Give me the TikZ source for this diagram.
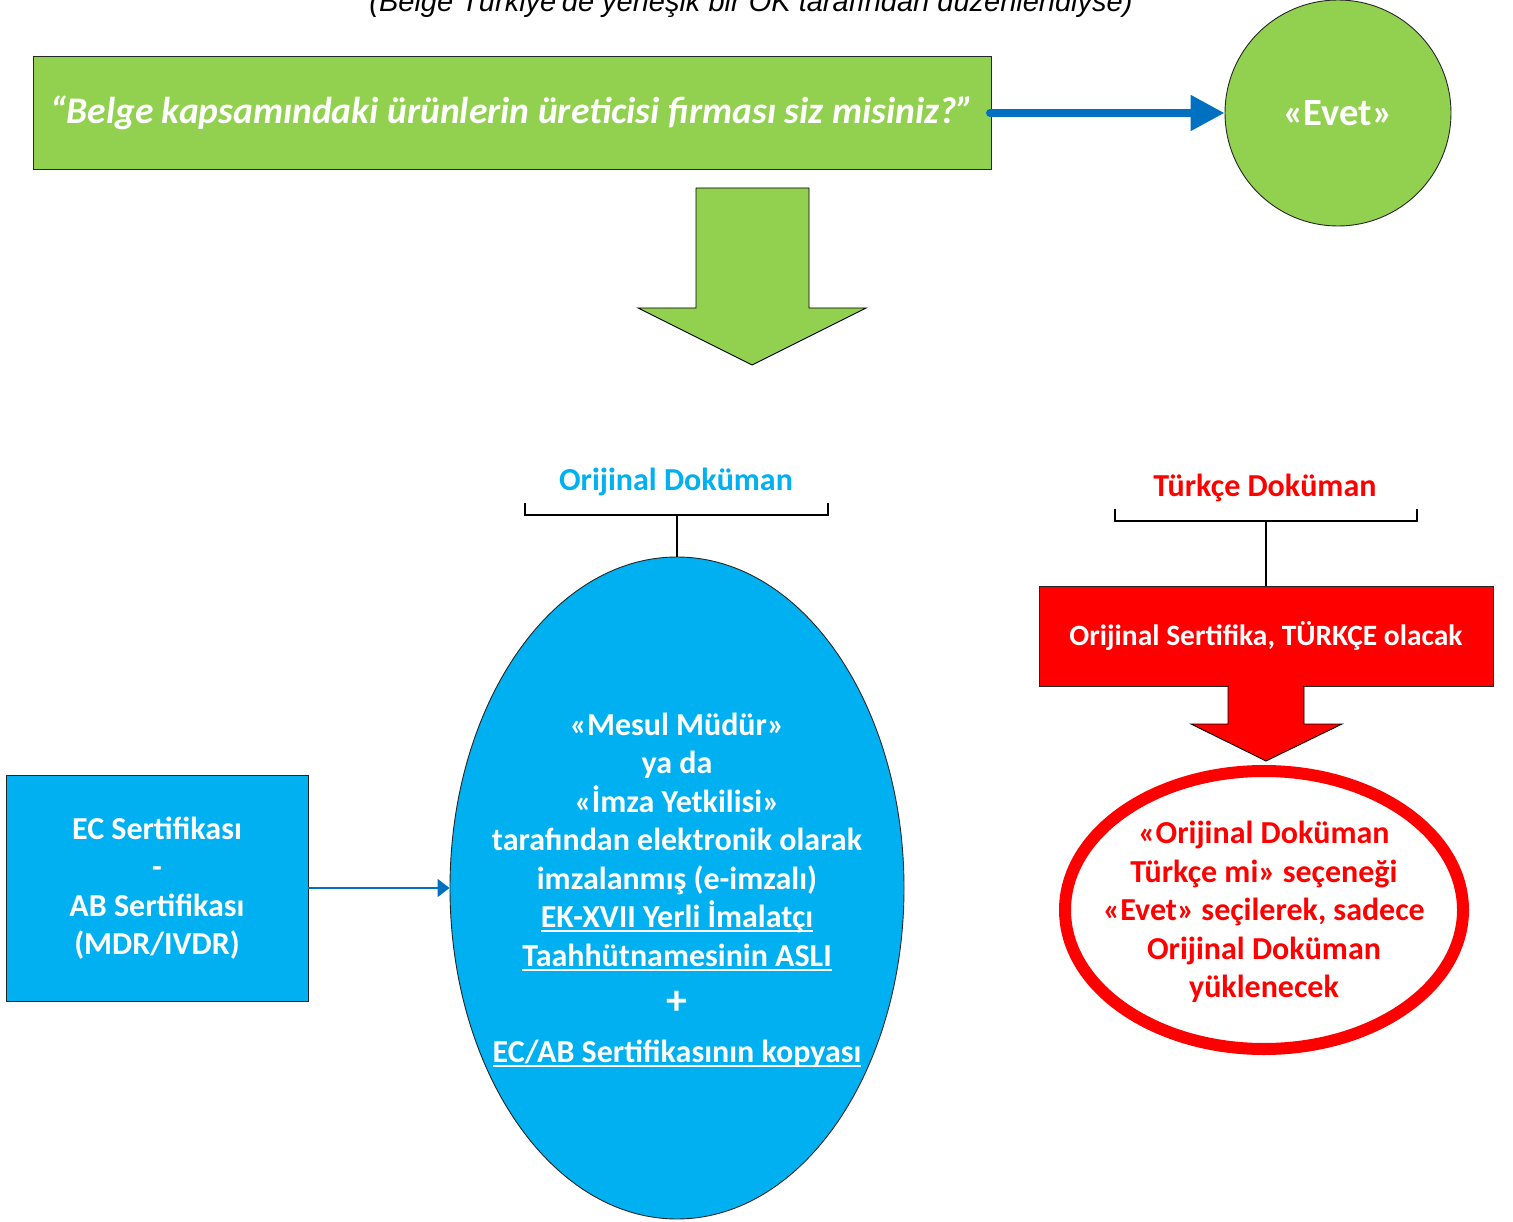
\documentclass[tikz,border=0pt]{standalone}
\usepackage{fontspec}
\setmainfont{Carlito}
\newfontfamily\capfont{Liberation Sans}
\usetikzlibrary{shapes.geometric,arrows.meta}
\definecolor{lgreen}{HTML}{92D050}
\definecolor{skyb}{HTML}{00B0F0}
\definecolor{darkb}{HTML}{0070C0}
\definecolor{pred}{HTML}{FF0000}
\newcommand\myul[1]{\setbox0\hbox{#1}\rlap{\rule[-4.5pt]{\wd0}{1.8pt}}\box0}
\tikzset{
  thinborder/.style={draw=black!85, line width=0.9pt},
  bodytext/.style={font=\fontsize{32}{38.5}\selectfont\bfseries, align=center},
  brk/.style={draw=black, line width=1.6pt},
  blockarrow/.style={draw=black, line width=0.9pt, line join=miter},
}
\begin{document}
\begin{tikzpicture}[x=1pt,y=-1pt]
\useasboundingbox (0,0) rectangle (1513,1222);
% caption (partly cut by page edge, as in the reference)
\node[anchor=base, inner sep=0, font=\capfont\itshape\fontsize{29}{33}\selectfont] (cap) at (751,11.5) {(Belge Türkiye'de yerleşik bir OK tarafından düzenlendiyse)};
% question box
\node[thinborder, fill=lgreen, minimum width=958pt, minimum height=113pt, inner sep=0, text=white,
  font=\fontsize{37.5}{42}\selectfont\bfseries\itshape] (q) at (512,112.5) {“Belge kapsamındaki ürünlerin üreticisi firması siz misiniz?”};
% Evet circle
\node[circle, thinborder, fill=lgreen, minimum size=226pt, inner sep=0, text=white,
  font=\fontsize{38.5}{42}\selectfont\bfseries] (evet) at (1338,113) {«Evet»};
\draw[darkb, line width=8pt, line cap=round, -{Triangle[length=34pt,width=34pt]}] (990,113) -- (evet.west);
% big green block arrow
\path[fill=lgreen, blockarrow] (696,188) -- (809,188) -- (809,308) -- (866,308) -- (752,365) -- (638,308) -- (696,308) -- cycle;
% Orijinal Doküman
\node[font=\fontsize{32}{36}\selectfont\bfseries, text=skyb, inner sep=0] (t1) at (676,482) {Orijinal Doküman};
\coordinate (b1) at (677,515);
\draw[brk] (525,503) -- (525,515) -- (828,515) -- (828,503);
\node[ellipse, thinborder, fill=skyb, minimum width=454pt, minimum height=662pt, inner sep=0] (ell) at (677,888) {};
\draw[brk] (b1) -- (ell.north);
\node[bodytext, text=white, inner sep=0] (elltext) at (677,890) {«Mesul Müdür»\\ ya da\\ «İmza Yetkilisi»\\ tarafından elektronik olarak\\ imzalanmış (e-imzalı)\\ \myul{EK-XVII Yerli İmalatçı}\\ \myul{Taahhütnamesinin ASLI}\\[9.5pt] {\fontsize{42}{38.5}\selectfont +}\\[9.5pt] \myul{EC/AB Sertifikasının kopyası}};
% EC box
\node[thinborder, fill=skyb, minimum width=302pt, minimum height=226pt, inner sep=0, bodytext, text=white] (ec) at (157,888) {EC Sertifikası\\ -\\ AB Sertifikası\\ (MDR/IVDR)};
\draw[darkb, line width=1.8pt, -{Triangle[length=12pt,width=18pt]}] (ec.east) -- (ell.west);
% Türkçe Doküman
\node[font=\fontsize{32}{36}\selectfont\bfseries, text=pred, inner sep=0] (t2) at (1265,488) {Türkçe Doküman};
\coordinate (b2) at (1266,521);
\draw[brk] (1115,509) -- (1115,521) -- (1417,521) -- (1417,509);
\node[thinborder, fill=pred, minimum width=454pt, minimum height=100pt, inner sep=0, text=white,
  font=\fontsize{29.5}{33}\selectfont\bfseries] (tr) at (1266,636) {Orijinal Sertifika, TÜRKÇE olacak};
\draw[brk] (b2) -- (tr.north);
% red block arrow
\path[fill=pred, blockarrow] (1228,686) -- (1304,686) -- (1304,724) -- (1342,724) -- (1266,761) -- (1191,724) -- (1228,724) -- cycle;
\fill[pred] (1229,684) rectangle (1303,690);
% red ellipse
\node[ellipse, draw=pred, line width=12pt, fill=white, minimum width=398pt, minimum height=278pt, inner sep=0] (rell) at (1264,910) {};
\node[bodytext, text=pred, inner sep=0] (relltext) at (1264,912) {«Orijinal Doküman\\ Türkçe mi» seçeneği\\ «Evet» seçilerek, sadece\\ Orijinal Doküman\\ yüklenecek};
\end{tikzpicture}
\end{document}
